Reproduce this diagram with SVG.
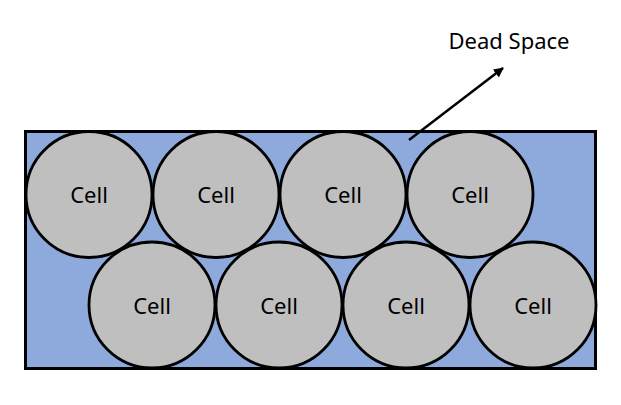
<svg xmlns="http://www.w3.org/2000/svg" width="621" height="405" viewBox="0 0 621 405">
<style>
.cell{fill:#BFBFBF;stroke:#000;stroke-width:2.8}
.lbl{font-family:"Noto Sans","Open Sans",sans-serif;font-size:22px;fill:#000;text-anchor:middle}
</style>
<defs>
<marker id="ah" viewBox="0 0 10 10" refX="9" refY="5" markerWidth="4" markerHeight="4" orient="auto" markerUnits="strokeWidth">
<path d="M0,0 L10,5 L0,10 z" fill="#000"/>
</marker>
</defs>
<rect width="621" height="405" fill="#fff"/>
<g id="container">
<rect x="25.5" y="131.5" width="570" height="237" fill="#8EA9DB" stroke="#000" stroke-width="3"/>
</g>
<g id="cell1"><circle class="cell" cx="89" cy="194.5" r="63"/><text class="lbl" x="89" y="203">Cell</text></g>
<g id="cell2"><circle class="cell" cx="216" cy="194.5" r="63"/><text class="lbl" x="216" y="203">Cell</text></g>
<g id="cell3"><circle class="cell" cx="343" cy="194.5" r="63"/><text class="lbl" x="343" y="203">Cell</text></g>
<g id="cell4"><circle class="cell" cx="470" cy="194.5" r="63"/><text class="lbl" x="470" y="203">Cell</text></g>
<g id="cell5"><circle class="cell" cx="152" cy="305" r="63"/><text class="lbl" x="152" y="314">Cell</text></g>
<g id="cell6"><circle class="cell" cx="279" cy="305" r="63"/><text class="lbl" x="279" y="314">Cell</text></g>
<g id="cell7"><circle class="cell" cx="406" cy="305" r="63"/><text class="lbl" x="406" y="314">Cell</text></g>
<g id="cell8"><circle class="cell" cx="533" cy="305" r="63"/><text class="lbl" x="533" y="314">Cell</text></g>
<g id="connectors">
<line x1="409" y1="140" x2="503" y2="68" stroke="#000" stroke-width="2.5" marker-end="url(#ah)"/>
</g>
<g id="label-dead-space"><text class="lbl" x="509" y="49">Dead Space</text></g>
</svg>
